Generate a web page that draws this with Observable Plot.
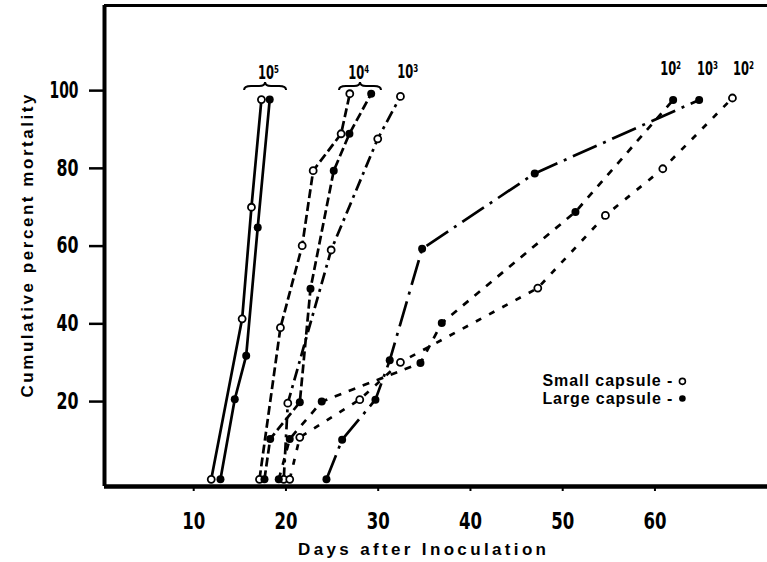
<!DOCTYPE html>
<html>
<head>
<meta charset="utf-8">
<script src="https://cdn.jsdelivr.net/npm/d3@7"></script>
<script src="https://cdn.jsdelivr.net/npm/@observablehq/plot@0.6"></script>
<style>
  html, body { margin: 0; padding: 0; background: #fff; }
  #chart svg { display: block; }
</style>
</head>
<body>
<div id="chart"></div>
<script>
// ---------------- DATA ----------------
// 10^5 inoculum
const days_1e5_small = [11.9, 15.25, 16.26, 17.34];
const pct_1e5_small  = [0, 41.3, 70.0, 97.7];
const days_1e5_large = [12.9, 14.45, 15.69, 16.94, 18.24];
const pct_1e5_large  = [0, 20.6, 31.8, 64.8, 97.7];
// 10^4 inoculum
const days_1e4_small = [17.13, 19.40, 21.76, 22.95, 25.98, 26.92];
const pct_1e4_small  = [0, 39.0, 60.1, 79.4, 88.9, 99.2];
const days_1e4_large = [17.67, 18.29, 21.50, 22.66, 25.18, 26.88, 29.24];
const pct_1e4_large  = [0, 10.4, 19.8, 49.0, 79.4, 88.9, 99.2];
// 10^3 inoculum
const days_1e3_small = [19.76, 20.20, 24.90, 29.95, 32.41];
const pct_1e3_small  = [0, 19.6, 59.0, 87.6, 98.5];
const days_1e3_large = [24.39, 26.09, 29.70, 31.25, 34.76, 46.97, 64.79];
const pct_1e3_large  = [0, 10.2, 20.5, 30.6, 59.3, 78.7, 97.6];
// 10^2 inoculum
const days_1e2_large = [19.22, 20.41, 23.88, 34.58, 36.89, 51.38, 61.97];
const pct_1e2_large  = [0, 10.4, 20.0, 29.9, 40.2, 68.8, 97.6];
const days_1e2_small = [20.41, 21.50, 28.0, 32.41, 47.30, 54.63, 60.85, 68.40];
const pct_1e2_small  = [0, 10.8, 20.5, 30.1, 49.2, 67.9, 79.9, 98.1];

// axis ticks
const xTicks = [10, 20, 30, 40, 50, 60];
const yTicks = [20, 40, 60, 80, 100];

// dose labels (10^n) above the curves
const doseLabels = ["10⁵", "10⁴", "10³", "10²", "10³", "10²"];
const doseDay  = [18.1, 27.9, 33.2, 61.7, 65.7, 69.6];
const dosePct  = [103.1, 103.1, 103.3, 103.9, 103.9, 103.9];

// legend
const legendLabels = ["Small capsule -", "Large capsule -"];
const legendCaps   = ["small", "large"];
const legendPct    = [25.2, 20.8];
const legendDay    = 47.8;

// texts
const xTitle = "Days after Inoculation";
const yTitle = "Cumulative percent mortality";

// ---------------- build table ----------------
const series = [
  {key: "1e5s", capsule: "small", days: days_1e5_small, pct: pct_1e5_small, dash: null},
  {key: "1e5l", capsule: "large", days: days_1e5_large, pct: pct_1e5_large, dash: null},
  {key: "1e4s", capsule: "small", days: days_1e4_small, pct: pct_1e4_small, dash: "9,4"},
  {key: "1e4l", capsule: "large", days: days_1e4_large, pct: pct_1e4_large, dash: "9,4"},
  {key: "1e3s", capsule: "small", days: days_1e3_small, pct: pct_1e3_small, dash: "12,5,3,5"},
  {key: "1e3l", capsule: "large", days: days_1e3_large, pct: pct_1e3_large, dash: "26,7,3,7"},
  {key: "1e2l", capsule: "large", days: days_1e2_large, pct: pct_1e2_large, dash: "7,8"},
  {key: "1e2s", capsule: "small", days: days_1e2_small, pct: pct_1e2_small, dash: "6,9"}
];
const rows = [];
for (const s of series) s.days.forEach((d, i) => rows.push({series: s.key, capsule: s.capsule, day: d, pct: s.pct[i]}));

const doseRows = doseLabels.map((t, i) => ({label: t, day: doseDay[i], pct: dosePct[i]}));
const legendRows = legendLabels.map((t, i) => ({label: t, capsule: legendCaps[i], day: legendDay, pct: legendPct[i]}));

// ---------------- plot ----------------
const FONT_NUM = '"DejaVu Sans", sans-serif';
const FONT_TXT = '"Liberation Sans", Arial, sans-serif';
const X_DOMAIN = [0.33, 72.2];
const Y_DOMAIN = [-1.85, 121.9];

const lineMarks = series.map(s => Plot.line(rows.filter(r => r.series === s.key), {
  x: "day", y: "pct", stroke: "#000", strokeWidth: 2.7,
  strokeDasharray: s.dash ?? undefined, strokeLinecap: "butt", strokeLinejoin: "round"
}));

const chart = Plot.plot({
  width: 767,
  height: 562,
  marginLeft: 104,
  marginRight: 0,
  marginTop: 5,
  marginBottom: 76,
  x: {domain: X_DOMAIN},
  y: {domain: Y_DOMAIN},
  style: {background: "#fff", color: "#000"},
  marks: [
    // frame (left, bottom, top)
    Plot.ruleX([X_DOMAIN[0]], {stroke: "#000", strokeWidth: 4}),
    Plot.ruleY([Y_DOMAIN[0]], {stroke: "#000", strokeWidth: 4.5}),
    Plot.ruleY([Y_DOMAIN[1]], {stroke: "#000", strokeWidth: 3}),
    Plot.axisY({ticks: yTicks, tickSize: 15, tickPadding: 11, strokeWidth: 2.5, label: null,
      fontSize: 23, fontWeight: "bold", fontFamily: FONT_NUM}),
    Plot.axisX({ticks: xTicks, tickSize: 5, tickPadding: 21, strokeWidth: 2, label: null,
      fontSize: 23, fontWeight: "bold", fontFamily: FONT_NUM}),
    ...lineMarks,
    Plot.dot(rows.filter(r => r.capsule === "small"), {x: "day", y: "pct", r: 3.5, fill: "#fff", stroke: "#000", strokeWidth: 1.8}),
    Plot.dot(rows.filter(r => r.capsule === "large"), {x: "day", y: "pct", r: 4, fill: "#000"}),
    // dose labels
    Plot.text(doseRows, {x: "day", y: "pct", text: "label", lineAnchor: "bottom", textAnchor: "middle",
      fontSize: 19, fontWeight: "bold", fontFamily: FONT_NUM, fill: "#000"}),
    // legend
    Plot.text(legendRows, {x: "day", y: "pct", text: "label", textAnchor: "start", lineAnchor: "middle",
      fontSize: 16, fontWeight: "bold", fontFamily: FONT_TXT, fill: "#000"}),
    Plot.dot(legendRows.filter(d => d.capsule === "small"), {x: "day", y: "pct", dx: 140, r: 3, fill: "#fff", stroke: "#000", strokeWidth: 1.6}),
    Plot.dot(legendRows.filter(d => d.capsule === "large"), {x: "day", y: "pct", dx: 140, r: 3.3, fill: "#000"}),
    // axis titles
    Plot.text([xTitle], {frameAnchor: "bottom", dy: 63, dx: -14, lineAnchor: "middle", textAnchor: "middle",
      fontSize: 17, fontWeight: "bold", fontFamily: FONT_TXT, fill: "#000"}),
    Plot.text([yTitle], {frameAnchor: "left", dx: -77, rotate: -90, lineAnchor: "middle", textAnchor: "middle",
      fontSize: 17, fontWeight: "bold", fontFamily: FONT_TXT, fill: "#000"})
  ]
});

document.getElementById("chart").appendChild(chart);

// ---------- text fitting to the reference's condensed / letter-spaced lettering ----------
const svg = d3.select(chart);
function fit(sel, len, adjust) { sel.attr("textLength", len).attr("lengthAdjust", adjust); }

svg.selectAll('g[aria-label="y-axis tick label"] text').each(function () {
  fit(d3.select(this), this.textContent.length === 3 ? 29 : 22, "spacingAndGlyphs");
});
svg.selectAll('g[aria-label="x-axis tick label"] text').each(function () {
  fit(d3.select(this), 23, "spacingAndGlyphs");
});
svg.selectAll("text").each(function () {
  const t = this.textContent, s = d3.select(this);
  if (t === xTitle) fit(s, 248, "spacing");
  else if (t === yTitle) fit(s, 303, "spacing");
  else if (legendLabels.includes(t)) fit(s, 130, "spacing");
  else if (doseLabels.includes(t)) fit(s, 21, "spacingAndGlyphs");
});

// curly braces over the 10^5 and 10^4 groups, derived from their top points
const xs = chart.scale("x"), ys = chart.scale("y");
const braceGroups = [["1e5s", "1e5l"], ["1e4s", "1e4l"]];
for (const g of braceGroups) {
  const tops = g.map(k => { const s = series.find(t => t.key === k); return xs.apply(s.days[s.days.length - 1]); });
  const c = d3.mean(tops), hw = 21, yb = ys.apply(100) - 4;
  const x1 = c - hw, x2 = c + hw;
  const p = `M${x1},${yb + 4} Q${x1},${yb} ${x1 + 7},${yb} L${c - 6},${yb} Q${c},${yb} ${c},${yb - 4} Q${c},${yb} ${c + 6},${yb} L${x2 - 7},${yb} Q${x2},${yb} ${x2},${yb + 4}`;
  svg.append("path").attr("d", p).attr("fill", "none").attr("stroke", "#000").attr("stroke-width", 2);
}
</script>
</body>
</html>
